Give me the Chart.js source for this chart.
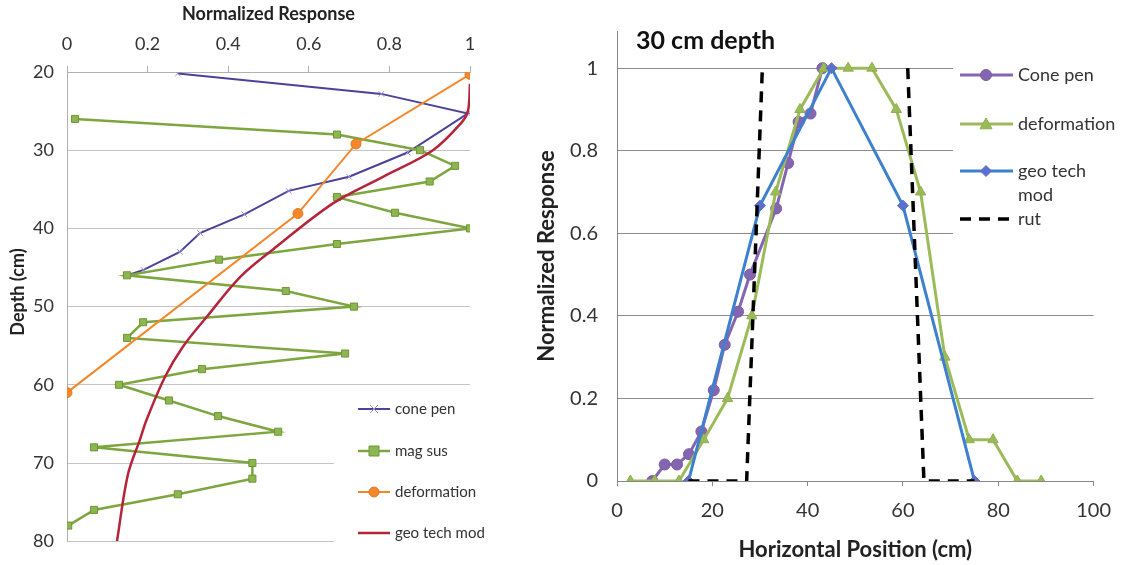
<!DOCTYPE html>
<html><head><meta charset="utf-8">
<script src="https://cdn.jsdelivr.net/npm/chart.js@4/dist/chart.umd.min.js"></script>
<style>
html,body{margin:0;padding:0;background:#fff;width:1124px;height:565px;overflow:hidden}
#l{position:absolute;left:0;top:0;width:500px;height:565px}
#r{position:absolute;left:520px;top:0;width:604px;height:565px}
</style></head><body>
<div id="l"><canvas id="c1"></canvas></div>
<div id="r"><canvas id="c2"></canvas></div>
<script>
// ---------- Left chart data (x = normalized response, y = depth cm) ----------
const leftXTicks = [0, 0.2, 0.4, 0.6, 0.8, 1];
const leftDepthTicks = [20, 30, 40, 50, 60, 70, 80];
const leftYTitle = 'Depth (cm)';
const conePenResp  = [0.275, 0.78, 0.995, 0.845, 0.70, 0.55, 0.44, 0.33, 0.28, 0.19, 0.15];
const conePenDepth = [20.2, 22.8, 25.3, 30.3, 33.4, 35.2, 38.2, 40.6, 43.0, 45.3, 46.0];
const magSusResp  = [0.02, 0.67, 0.876, 0.963, 0.90, 0.67, 0.814, 1.0, 0.67, 0.377, 0.149, 0.543, 0.712, 0.189, 0.149, 0.69, 0.335, 0.129, 0.253, 0.375, 0.524, 0.067, 0.46, 0.46, 0.275, 0.067, 0.003];
const magSusDepth = [26, 28, 30, 32, 34, 36, 38, 40, 42, 44, 46, 48, 50, 52, 54, 56, 58, 60, 62, 64, 66, 68, 70, 72, 74, 76, 78];
const deformResp  = [1.0, 0.717, 0.573, 0.0];
const deformDepth = [20.3, 29.2, 38.1, 61.0];
const geoTechResp  = [1.0, 0.995, 0.98, 0.908, 0.784, 0.66, 0.511, 0.43, 0.347, 0.288, 0.243, 0.198, 0.181, 0.151, 0.124];
const geoTechDepth = [21.5, 25.0, 26.4, 30.0, 33.4, 36.8, 42.7, 46.2, 51.3, 55.1, 59.0, 64.4, 67.0, 71.5, 80.0];
const leftLabels = ['cone pen', 'mag sus', 'deformation', 'geo tech mod'];

// ---------- Right chart data (x = horizontal position cm, y = normalized response) ----------
const rightTitle = '30 cm depth';
const rightXTicks = [0, 20, 40, 60, 80, 100];
const rightYTicks = [0, 0.2, 0.4, 0.6, 0.8, 1];
const rConeX = [7.4, 10, 12.6, 15.1, 17.7, 20.3, 22.6, 25.4, 27.9, 33.4, 35.9, 38.1, 40.6, 43.1];
const rConeY = [0.0, 0.04, 0.04, 0.065, 0.12, 0.22, 0.33, 0.41, 0.50, 0.66, 0.77, 0.87, 0.89, 1.0];
const rDefX = [2.8, 7.9, 13, 18.2, 23.2, 28.3, 33.3, 38.4, 43.4, 48.5, 53.5, 58.6, 63.7, 68.8, 73.9, 78.9, 84, 89];
const rDefY = [0, 0, 0, 0.1, 0.2, 0.4, 0.7, 0.9, 1, 1, 1, 0.9, 0.7, 0.3, 0.1, 0.1, 0, 0];
const rGeoX = [15, 30, 45, 60, 75];
const rGeoY = [0, 0.667, 1, 0.667, 0];
const rRutX = [15, 27.2, 30.5, null, 61, 64.4, 75];
const rRutY = [0, 0, 1, null, 1, 0, 0];
const rightLabels = ['Cone pen', 'deformation', ['geo tech', 'mod'], 'rut'];

const FONT = "Lato, 'Open Sans', sans-serif";
const pts = (xs, ys) => xs.map((x, i) => ({x: x, y: ys[i]}));
const fmt = (v) => String(+(+v).toFixed(2));

function drawMarker(ctx, style, x, y, r, fill, stroke) {
  ctx.save();
  ctx.fillStyle = fill; ctx.strokeStyle = stroke; ctx.lineWidth = 1;
  ctx.beginPath();
  if (style === 'circle') { ctx.arc(x, y, r, 0, Math.PI * 2); ctx.fill(); ctx.stroke(); }
  else if (style === 'rect') { ctx.rect(x - r, y - r, 2 * r, 2 * r); ctx.fill(); ctx.stroke(); }
  else if (style === 'triangle') { ctx.moveTo(x, y - r); ctx.lineTo(x + r, y + r * 0.8); ctx.lineTo(x - r, y + r * 0.8); ctx.closePath(); ctx.fill(); ctx.stroke(); }
  else if (style === 'rectRot') { ctx.moveTo(x, y - r); ctx.lineTo(x + r, y); ctx.lineTo(x, y + r); ctx.lineTo(x - r, y); ctx.closePath(); ctx.fill(); ctx.stroke(); }
  else if (style === 'crossRot') { ctx.moveTo(x - r, y - r); ctx.lineTo(x + r, y + r); ctx.moveTo(x + r, y - r); ctx.lineTo(x - r, y + r); ctx.stroke(); }
  ctx.restore();
}

// ---------- Left chart ----------
const leftStyles = [
  {line: '#4A4399', fill: '#9a94cc', stroke: '#9a94cc', pt: 'crossRot', r: 4, w: 2},
  {line: '#7DA63F', fill: '#8DB652', stroke: '#6f9636', pt: 'rect', r: 5, w: 2.5},
  {line: '#F5872B', fill: '#F5872B', stroke: '#e07a22', pt: 'circle', r: 5, w: 2},
  {line: '#B4243A', fill: '#B4243A', stroke: '#B4243A', pt: false, r: 0, w: 2.5}
];

const leftLegend = {
  id: 'leftLegend',
  afterDraw(chart) {
    const ctx = chart.ctx;
    ctx.save();
    ctx.fillStyle = '#fff';
    ctx.fillRect(334, 392, 166, 160);
    const ys = [409, 451, 492, 533];
    ctx.font = '15px ' + FONT;
    ctx.textBaseline = 'middle';
    leftLabels.forEach((lab, i) => {
      const s = leftStyles[i];
      ctx.strokeStyle = s.line; ctx.lineWidth = s.w;
      ctx.beginPath(); ctx.moveTo(358, ys[i]); ctx.lineTo(390, ys[i]); ctx.stroke();
      if (s.pt) drawMarker(ctx, s.pt, 374, ys[i], s.r, s.fill, s.stroke);
      ctx.fillStyle = '#333';
      ctx.fillText(lab, 395, ys[i]);
    });
    // y axis title
    ctx.translate(18, 292);
    ctx.rotate(-Math.PI / 2);
    ctx.font = 'bold 18px ' + FONT;
    ctx.fillStyle = '#222';
    ctx.textAlign = 'center';
    ctx.fillText(leftYTitle, 0, 0);
    ctx.restore();
  }
};

new Chart(document.getElementById('c1'), {
  type: 'scatter',
  data: {
    datasets: [
      {label: leftLabels[0], data: pts(conePenResp, conePenDepth), order: 3},
      {label: leftLabels[1], data: pts(magSusResp, magSusDepth), order: 2},
      {label: leftLabels[2], data: pts(deformResp, deformDepth), order: 1},
      {label: leftLabels[3], data: pts(geoTechResp, geoTechDepth), order: 0, tension: 0.35}
    ].map((d, i) => Object.assign({
      showLine: true,
      borderColor: leftStyles[i].line,
      borderWidth: leftStyles[i].w,
      backgroundColor: leftStyles[i].fill,
      pointBorderColor: leftStyles[i].stroke,
      pointStyle: leftStyles[i].pt || 'circle',
      pointRadius: leftStyles[i].r,
      pointBorderWidth: 1
    }, d))
  },
  options: {
    responsive: true, maintainAspectRatio: false, animation: false,
    layout: {padding: {left: 0, right: 30, top: 0, bottom: 23}},
    plugins: {legend: {display: false}, tooltip: {enabled: false}},
    scales: {
      x: {
        type: 'linear', position: 'top', min: 0, max: 1,
        afterBuildTicks: (s) => { s.ticks = leftXTicks.map(v => ({value: v})); },
        afterFit: (s) => { s.height = 72; },
        ticks: {font: {family: FONT, size: 18}, color: '#333', padding: 11, callback: fmt},
        grid: {drawOnChartArea: false, drawTicks: true, tickLength: 6, color: '#b0b0b0'},
        border: {color: '#b0b0b0'},
        title: {display: true, text: 'Normalized Response', font: {family: FONT, size: 18, weight: 'bold'}, color: '#222', padding: {top: 3, bottom: 0}}
      },
      y: {
        type: 'linear', reverse: true, min: 20, max: 80,
        afterBuildTicks: (s) => { s.ticks = leftDepthTicks.map(v => ({value: v})); },
        afterFit: (s) => { s.width = 67; },
        ticks: {font: {family: FONT, size: 18}, color: '#333', padding: 13, callback: fmt},
        grid: {color: '#c4c4c4', drawTicks: false},
        border: {color: '#b0b0b0'},
        title: {display: false}
      }
    }
  },
  plugins: [leftLegend]
});

// ---------- Right chart ----------
const rightStyles = [
  {line: '#8466B0', fill: '#8466B0', stroke: '#7a5ca8', pt: 'circle', r: 5.5, w: 3, dash: []},
  {line: '#9BBB59', fill: '#9BBB59', stroke: '#8fb04d', pt: 'triangle', r: 6, w: 3, dash: []},
  {line: '#3D80CE', fill: '#5C6FCB', stroke: '#5C6FCB', pt: 'rectRot', r: 5.5, w: 3, dash: []},
  {line: '#000000', fill: '#000', stroke: '#000', pt: false, r: 0, w: 3.5, dash: [11, 8]}
];

const rightDeco = {
  id: 'rightDeco',
  afterDraw(chart) {
    const ctx = chart.ctx;
    ctx.save();
    ctx.fillStyle = '#fff';
    ctx.fillRect(433, 48, 171, 195);
    ctx.font = 'bold 25px ' + FONT;
    ctx.fillStyle = '#111';
    ctx.textBaseline = 'middle';
    ctx.fillText(rightTitle, 116, 41);
    const ys = [75, 124, 171, 219];
    ctx.font = '18px ' + FONT;
    rightLabels.forEach((lab, i) => {
      const s = rightStyles[i];
      ctx.strokeStyle = s.line; ctx.lineWidth = s.w;
      ctx.setLineDash(s.dash);
      ctx.beginPath(); ctx.moveTo(440, ys[i]); ctx.lineTo(493, ys[i]); ctx.stroke();
      ctx.setLineDash([]);
      if (s.pt) drawMarker(ctx, s.pt, 466, ys[i], s.r, s.fill, s.stroke);
      ctx.fillStyle = '#333';
      if (Array.isArray(lab)) {
        ctx.fillText(lab[0], 498, ys[i]);
        ctx.fillText(lab[1], 498, ys[i] + 24);
      } else ctx.fillText(lab, 498, ys[i]);
    });
    ctx.restore();
  }
};

new Chart(document.getElementById('c2'), {
  type: 'scatter',
  data: {
    datasets: [
      {label: 'Cone pen', data: pts(rConeX, rConeY), order: 3},
      {label: 'deformation', data: pts(rDefX, rDefY), order: 2},
      {label: 'geo tech mod', data: pts(rGeoX, rGeoY), order: 1},
      {label: 'rut', data: pts(rRutX, rRutY), order: 0, spanGaps: false}
    ].map((d, i) => Object.assign({
      showLine: true,
      borderColor: rightStyles[i].line,
      borderWidth: rightStyles[i].w,
      borderDash: rightStyles[i].dash,
      backgroundColor: rightStyles[i].fill,
      pointBorderColor: rightStyles[i].stroke,
      pointStyle: rightStyles[i].pt || 'circle',
      pointRadius: rightStyles[i].r,
      pointBorderWidth: 1
    }, d))
  },
  options: {
    responsive: true, maintainAspectRatio: false, animation: false,
    layout: {padding: {left: 0, right: 24, top: 0, bottom: 0}},
    plugins: {legend: {display: false}, tooltip: {enabled: false}},
    scales: {
      x: {
        type: 'linear', position: 'bottom', min: 0, max: 100,
        afterBuildTicks: (s) => { s.ticks = rightXTicks.map(v => ({value: v})); },
        ticks: {font: {family: FONT, size: 20}, color: '#333', padding: 13, callback: fmt},
        afterFit: (s) => { s.height = 84; },
        grid: {drawOnChartArea: false, drawTicks: true, tickLength: 5, color: '#888'},
        border: {color: '#888'},
        title: {display: true, text: 'Horizontal Position (cm)', font: {family: FONT, size: 22, weight: 'bold'}, color: '#222', padding: {top: 0, bottom: 2}}
      },
      y: {
        type: 'linear', min: 0, max: 1.09,
        afterBuildTicks: (s) => { s.ticks = rightYTicks.map(v => ({value: v})); },
        ticks: {font: {family: FONT, size: 20}, color: '#333', padding: 19, callback: fmt},
        afterFit: (s) => { s.width = 97; },
        grid: {color: '#8c8c8c', drawTicks: false},
        border: {color: '#888'},
        title: {display: true, text: 'Normalized Response', font: {family: FONT, size: 22, weight: 'bold'}, color: '#222', padding: {top: 14, bottom: 0}}
      }
    }
  },
  plugins: [rightDeco]
});
</script>
</body></html>
